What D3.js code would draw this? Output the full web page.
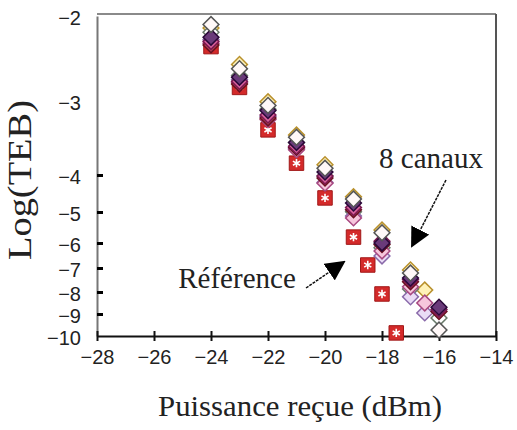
<!DOCTYPE html>
<html><head><meta charset="utf-8">
<script src="https://cdn.jsdelivr.net/npm/d3@7"></script>
<style>body{margin:0;background:#fff}svg{display:block}</style>
</head><body><svg id="c" width="517" height="430"></svg>
<script>
// ---- data ----
const xTicks = [-28,-26,-24,-22,-20,-18,-16,-14];
const yTicks = [-2,-3,-4,-5,-6,-7,-8,-9,-10];
const refPower = [-24,-23,-22,-21,-20,-19,-18.5,-18,-17.5];
const refLogTEB = [-2.36,-2.84,-3.39,-3.84,-4.62,-5.81,-6.88,-8.09,-9.86];
const chPowerA = [-24,-23,-22,-21,-20,-19,-18,-17,-16];
const chPowerB = [-24,-23,-22,-21,-20,-19,-18,-17,-16.5];
const ch1 = [-2.14,-2.57,-3.01,-3.46,-3.86,-4.59,-5.58,-7.08,-7.92]; // yellow
const ch2 = [-2.10,-2.62,-3.06,-3.49,-3.91,-4.65,-5.67,-7.21,-9.73]; // white
const ch3 = [-2.25,-2.72,-3.13,-3.56,-3.96,-4.76,-6.00,-7.42,-8.69]; // dark purple
const ch4 = [-2.30,-2.77,-3.19,-3.61,-4.03,-4.88,-5.94,-7.48,-8.79]; // magenta
const ch5 = [-2.34,-2.80,-3.23,-3.63,-4.08,-4.94,-6.06,-7.57,-8.89]; // maroon
const ch6 = [-2.28,-2.75,-3.21,-3.64,-4.20,-5.13,-6.52,-8.22,-8.95]; // lavender
const ch7 = [-2.32,-2.78,-3.25,-3.66,-4.22,-5.19,-6.32,-7.78,-8.50]; // pink
const ch8 = [-2.19,-2.70,-3.11,-3.56,-4.03,-4.99,-6.19,-7.88,-9.18]; // grey

const channels = [
  {v: ch1, p: chPowerB, fill:"#fff2b8", stroke:"#b8902c"},
  {v: ch8, p: chPowerA, fill:"#ffffff", stroke:"#6a7a6a"},
  {v: ch6, p: chPowerB, fill:"#eadcf6", stroke:"#8a6aaa"},
  {v: ch7, p: chPowerB, fill:"#f6c6dc", stroke:"#a84880"},
  {v: ch5, p: chPowerA, fill:"#b04050", stroke:"#6a1020"},
  {v: ch4, p: chPowerA, fill:"#d8609a", stroke:"#7a1850"},
  {v: ch3, p: chPowerA, fill:"#6a3a7a", stroke:"#2a0838"},
  {v: ch2, p: chPowerA, fill:"#fff8f8", stroke:"#555555"}
];

// ---- layout ----
const svg = d3.select("#c");
const x = d3.scaleLinear().domain([-28,-14]).range([97,496]);
const y = d3.scaleLinear().domain(yTicks).range([16,101,175,212,243,268,292,314,336]);
const plotBottom = 336, plotTop = 14, plotLeft = 97, plotRight = 496;

// frame
svg.append("line").attr("x1",plotLeft).attr("x2",plotRight).attr("y1",plotTop).attr("y2",plotTop)
  .attr("stroke","#8a8a8a").attr("stroke-width",2);
svg.append("line").attr("x1",plotRight).attr("x2",plotRight).attr("y1",plotTop).attr("y2",plotBottom)
  .attr("stroke","#555").attr("stroke-width",2);

// y axis
const gy = svg.append("g").attr("transform",`translate(${plotLeft},0)`)
  .call(d3.axisLeft(y).tickValues(yTicks).tickSize(0).tickPadding(16).tickFormat(d3.format("d")));
gy.select(".domain").attr("stroke","#777").attr("stroke-width",2);
gy.selectAll(".tick line").attr("x1",0).attr("x2",6).attr("stroke","#000").attr("stroke-width",3)
  .attr("display", d => (d > -3.5 || d < -9.5) ? "none" : null);
gy.selectAll(".tick text").attr("font-family","'Liberation Sans',Arial,sans-serif")
  .attr("font-size",20).attr("fill","#222").attr("dy","0.42em");

// x axis
const gx = svg.append("g").attr("transform",`translate(0,${plotBottom})`)
  .call(d3.axisBottom(x).tickValues(xTicks).tickSize(0).tickPadding(14).tickFormat(d3.format("d")));
gx.select(".domain").attr("stroke","#111").attr("stroke-width",2);
gx.selectAll(".tick line").attr("y1",-5).attr("y2",5).attr("stroke","#111").attr("stroke-width",2);
gx.selectAll(".tick text").attr("font-family","'Liberation Sans',Arial,sans-serif")
  .attr("font-size",20).attr("fill","#222");

// reference points
const ref = svg.append("g");
refPower.forEach((p,i)=>{
  const g = ref.append("g").attr("transform",`translate(${x(p)},${y(refLogTEB[i])})`);
  g.append("path").attr("d", d3.symbol(d3.symbolSquare, 210)()).attr("fill","#d42a2a").attr("stroke","#a01818");
  g.append("path").attr("d", d3.symbol(d3.symbolAsterisk, 48)()).attr("fill","none").attr("stroke","#fff").attr("stroke-width",1.6);
});

// channel points
const chg = svg.append("g");
channels.forEach(c=>{
  c.v.forEach((v,i)=>{
    chg.append("path").attr("d", d3.symbol(d3.symbolSquare, 125)())
      .attr("transform",`translate(${x(c.p[i])},${y(v)}) rotate(45)`)
      .attr("fill",c.fill).attr("stroke",c.stroke).attr("stroke-width",1.5);
  });
});

// annotations
const defs = svg.append("defs");
defs.append("marker").attr("id","ah").attr("viewBox","0 0 10 10").attr("refX",9).attr("refY",5)
  .attr("markerWidth",20).attr("markerHeight",20).attr("markerUnits","userSpaceOnUse").attr("orient","auto")
  .append("path").attr("d","M0,0 L10,5 L0,10 z").attr("fill","#000");

svg.append("line").attr("x1",446).attr("y1",180).attr("x2",412).attr("y2",246)
  .attr("stroke","#111").attr("stroke-width",1.5).attr("stroke-dasharray","3,1").attr("marker-end","url(#ah)");
svg.append("line").attr("x1",306).attr("y1",288).attr("x2",344).attr("y2",262)
  .attr("stroke","#111").attr("stroke-width",1.5).attr("stroke-dasharray","3,1").attr("marker-end","url(#ah)");

const serif = "'Liberation Serif','Times New Roman',serif";
svg.append("text").attr("x",431).attr("y",168).attr("text-anchor","middle")
  .attr("font-family",serif).attr("font-size",29).attr("fill","#222").text("8 canaux");
svg.append("text").attr("x",237).attr("y",288).attr("text-anchor","middle")
  .attr("font-family",serif).attr("font-size",29).attr("fill","#222").text("Référence");

// axis titles
svg.append("text").attr("x",300).attr("y",416).attr("text-anchor","middle")
  .attr("font-family",serif).attr("font-size",30).attr("fill","#222")
  .attr("textLength",284).attr("lengthAdjust","spacingAndGlyphs").text("Puissance reçue (dBm)");
svg.append("text").attr("transform","translate(31,180) rotate(-90)").attr("text-anchor","middle")
  .attr("font-family",serif).attr("font-size",33).attr("fill","#222")
  .attr("textLength",160).attr("lengthAdjust","spacingAndGlyphs").text("Log(TEB)");
</script></body></html>
